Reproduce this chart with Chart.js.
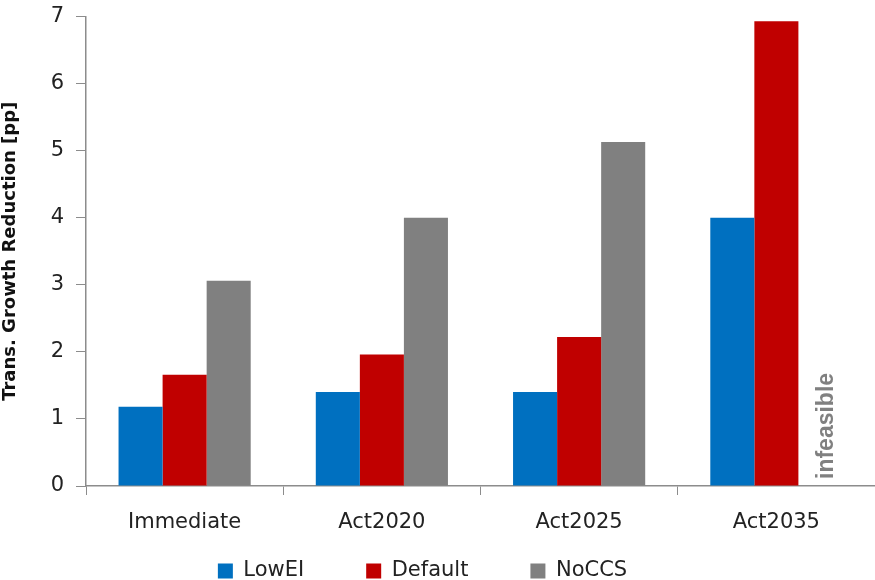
<!DOCTYPE html>
<html>
<head>
<meta charset="utf-8">
<script src="https://cdn.jsdelivr.net/npm/chart.js@4.4.1/dist/chart.umd.min.js"></script>
<style>
  html, body { margin: 0; padding: 0; background: #fff; }
  #wrap { width: 875px; height: 580px; }
</style>
</head>
<body>
<div id="wrap"><canvas id="grafico"></canvas></div>
<script>
// dados
const categorias = ["Immediate", "Act2020", "Act2025", "Act2035"];
const lowEI = [1.18, 1.4, 1.4, 4.0];
const padrao = [1.66, 1.96, 2.22, 6.93];
const noCCS = [3.06, 4.0, 5.13, null]; // Act2035 inviável
const marcasY = [0, 1, 2, 3, 4, 5, 6, 7];

const CORES = {
  azul: "#0070C0",
  vermelho: "#C00000",
  cinza: "#808080",
  eixo: "#8c8c8c",
  texto: "#222222"
};

const PAD_LEGENDA = 62;

Chart.defaults.font.family = "'DejaVu Sans', sans-serif";
Chart.defaults.color = CORES.texto;

// escreve "infeasible" no lugar da barra que falta
const rotuloInviavel = {
  id: "rotuloInviavel",
  afterDatasetsDraw(chart) {
    const { ctx, scales } = chart;
    const meta = chart.getDatasetMeta(2);
    const el = meta.data[3];
    const x = el && isFinite(el.x) ? el.x : scales.x.getPixelForValue(3) + 44;
    const y = scales.y.getPixelForValue(0) - 7;
    ctx.save();
    ctx.translate(x + 6, y);
    ctx.rotate(-Math.PI / 2);
    ctx.font = "bold 23px 'Liberation Sans', Arial, sans-serif";
    ctx.fillStyle = CORES.cinza;
    ctx.textAlign = "left";
    ctx.textBaseline = "middle";
    ctx.fillText("infeasible", 0, 0);
    ctx.restore();
  }
};

// o padding grande afasta os itens da legenda, mas empurra ela pra baixo; sobe de volta
const ajusteLegenda = {
  id: "ajusteLegenda",
  afterLayout(chart) {
    const lg = chart.legend;
    if (!lg) return;
    lg.top = 571 - PAD_LEGENDA - 10.5; // centro do texto em ~571
    lg.bottom = chart.height;
    lg.height = lg.bottom - lg.top;
    // no original a legenda fica um pouco à esquerda do centro
    lg.left -= 15;
    lg.right -= 15;
  }
};

const ctx = document.getElementById("grafico").getContext("2d");
new Chart(ctx, {
  type: "bar",
  data: {
    labels: categorias,
    datasets: [
      { label: "LowEI", data: lowEI, backgroundColor: CORES.azul },
      { label: "Default", data: padrao, backgroundColor: CORES.vermelho },
      { label: "NoCCS", data: noCCS, backgroundColor: CORES.cinza }
    ]
  },
  options: {
    responsive: true,
    maintainAspectRatio: false,
    animation: false,
    categoryPercentage: 0.67,
    barPercentage: 1.0,
    layout: { padding: { top: 16.5, right: 0, left: 0, bottom: 0 } },
    plugins: {
      tooltip: { enabled: false },
      legend: {
        position: "bottom",
        maxHeight: 44,
        labels: {
          boxWidth: 15,
          boxHeight: 15,
          padding: PAD_LEGENDA,
          font: { size: 21 },
          color: CORES.texto
        }
      }
    },
    scales: {
      x: {
        grid: {
          display: true,
          offset: true,
          drawOnChartArea: false,
          tickLength: 9,
          color: CORES.eixo
        },
        border: { color: CORES.eixo, width: 1.5 },
        ticks: { padding: 15, font: { size: 21 }, color: CORES.texto },
        afterFit(scale) { scale.height = 50; }
      },
      y: {
        min: 0,
        max: 7,
        afterBuildTicks(scale) {
          scale.ticks = marcasY.map((v) => ({ value: v }));
        },
        grid: {
          display: true,
          drawOnChartArea: false,
          tickLength: 10,
          color: CORES.eixo
        },
        border: { color: CORES.eixo, width: 1.5 },
        ticks: { padding: 12, font: { size: 21 }, color: CORES.texto },
        title: {
          display: true,
          text: "Trans. Growth Reduction [pp]",
          font: { size: 18, weight: "bold" },
          color: "#111111",
          padding: { top: 0, bottom: 4 }
        },
        afterFit(scale) {
          scale.width = 86;
          scale.paddingTop = 0;
          scale.paddingBottom = 0;
        }
      }
    }
  },
  plugins: [rotuloInviavel, ajusteLegenda]
});
</script>
</body>
</html>
